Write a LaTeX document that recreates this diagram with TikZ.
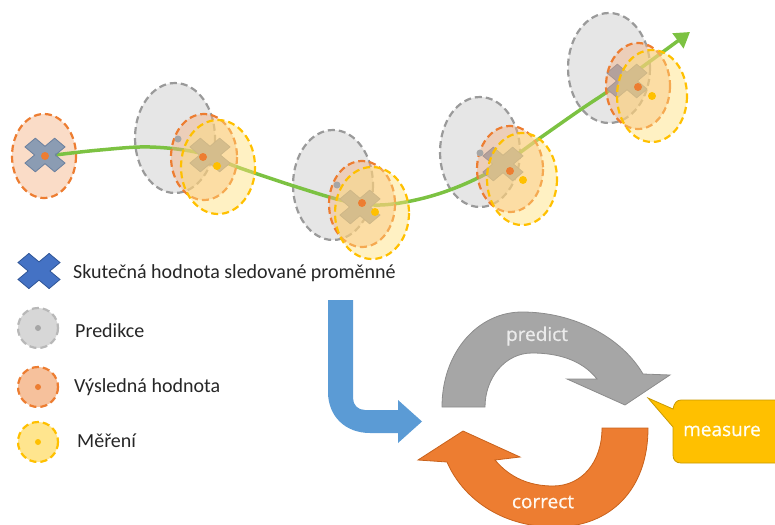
\documentclass[tikz,border=0pt]{standalone}
\usepackage{fontspec}
\setmainfont{Carlito}
\newfontfamily\cyclefont{Open Sans}[FakeBold=0.7]
\usetikzlibrary{arrows.meta}
\definecolor{trajgreen}{HTML}{7CC242}
\definecolor{predgray}{HTML}{A6A6A6}
\definecolor{predgrayd}{HTML}{9A9A9A}
\definecolor{resorange}{HTML}{ED7D31}
\definecolor{resorangel}{HTML}{F4B183}
\definecolor{measyellow}{HTML}{FFC000}
\definecolor{measyellowl}{HTML}{FFE07A}
\definecolor{crossblue}{HTML}{4472C4}
\definecolor{crossblued}{HTML}{2F5597}
\definecolor{crossgray}{HTML}{7F95B2}
\definecolor{crossgrayd}{HTML}{6A809E}
\definecolor{flowblue}{HTML}{5B9BD5}
\definecolor{arrowgraydark}{HTML}{8C8C8C}
\definecolor{arroworangedark}{HTML}{C8621C}
\definecolor{measborder}{HTML}{C99A00}
\tikzset{
  dashbase/.style={line width=2.2pt, dash pattern=on 7pt off 4pt},
  predell/.style={dashbase, draw=predgrayd, fill=predgray!40, fill opacity=0.7},
  resell/.style={dashbase, draw=resorange, fill=resorangel, fill opacity=0.45},
  measell/.style={dashbase, draw=measyellow, fill=measyellowl, fill opacity=0.45},
  resdot/.style={fill=resorange},
  measdot/.style={fill=measyellow},
  preddot/.style={fill=predgray},
  xmark/.pic={
    \path[pic actions, rotate=45] (7,20) -- (-7,20) -- (-7,7) -- (-20,7) -- (-20,-7)
      -- (-7,-7) -- (-7,-20) -- (7,-20) -- (7,-7) -- (20,-7) -- (20,7) -- (7,7) -- cycle;
  },
  diagcross/.style={fill=crossgray, draw=crossgrayd, line width=0.8pt, xscale=1.05, yscale=0.88},
  legtext/.style={anchor=west, inner sep=0pt, font=\fontsize{20}{24}\selectfont, text=black!85},
  cycletext/.style={inner sep=0pt, font=\cyclefont\fontsize{19}{22}\selectfont},
}
\begin{document}
\begin{tikzpicture}[x=1pt, y=-1pt]
\useasboundingbox (0,0) rectangle (775,524);
\clip (0,0) rectangle (775,524);

% ---------- trajectory: prediction ellipses ----------
\draw[predell] (175,138) ellipse[x radius=40, y radius=55];
\draw[predell] (333,185) ellipse[x radius=40, y radius=55];
\draw[predell] (480,152) ellipse[x radius=40, y radius=55];
\draw[predell] (609,68) ellipse[x radius=41, y radius=55];

% group 1 result ellipse
\draw[resell] (44,156) ellipse[x radius=32, y radius=42];

% green trajectory
\coordinate (tstart) at (55,155);
\coordinate (tend) at (690,32);
\draw[trajgreen, line width=3.5pt, -{Triangle[length=15pt,width=18pt]}]
  plot[smooth, tension=0.6] coordinates {(55,155) (100,150) (150,147) (200,153) (240,168)
   (300,188) (345,201) (380,205) (420,199) (460,186) (500,166) (540,138) (580,110) (620,83) (690,32)};

% true values
\pic[diagcross, fill opacity=0.9] at (45,155) {xmark};
\pic[diagcross] at (210,155) {xmark};
\pic[diagcross] at (360,207) {xmark};
\pic[diagcross] at (503,164) {xmark};
\pic[diagcross] at (627,81) {xmark};
\fill[resdot] (45,156) circle[radius=4];

% group 2
\draw[resell] (204,157) ellipse[x radius=33, y radius=43];
\draw[measell] (218,167) ellipse[x radius=37, y radius=47];
\fill[preddot] (178,139) circle[radius=3.5];
\fill[resdot] (203,157) circle[radius=4];
\fill[measdot] (217,166) circle[radius=4];

% group 3
\draw[resell] (362,204) ellipse[x radius=33, y radius=43];
\draw[measell] (372,213) ellipse[x radius=37, y radius=46];
\fill[preddot] (337,185) circle[radius=3.5];
\fill[resdot] (362,203) circle[radius=4];
\fill[measdot] (375,212) circle[radius=4];

% group 4
\draw[resell] (510,169) ellipse[x radius=33, y radius=43];
\draw[measell] (522,179) ellipse[x radius=35, y radius=46];
\fill[preddot] (480,153) circle[radius=3.5];
\fill[resdot] (510,171) circle[radius=4];
\fill[measdot] (523,180) circle[radius=4];

% group 5
\draw[resell] (638,86) ellipse[x radius=32, y radius=43];
\draw[measell] (652,96) ellipse[x radius=35, y radius=46];
\fill[resdot] (638,87) circle[radius=4];
\fill[measdot] (652,96) circle[radius=4];

% ---------- legend ----------
\pic[fill=crossblue, draw=crossblued, line width=0.8pt, xscale=1.1, yscale=0.92] at (39,271) {xmark};
\node[legtext] (ltrue) at (73,273) {Skutečná hodnota sledované proměnné};

\draw[dashbase, draw=predgray!80, fill=predgray!45] (38,328) circle[radius=20];
\fill[preddot] (38,328) circle[radius=3];
\node[legtext] (lpred) at (75,331) {Predikce};

\draw[dashbase, draw=resorange, fill=resorangel!80] (38,387) circle[radius=20];
\fill[resdot] (38,387) circle[radius=3];
\node[legtext] (lres) at (74,387) {Výsledná hodnota};

\draw[dashbase, draw=measyellow, fill=measyellowl!85] (38,442) circle[radius=20];
\fill[measdot] (38,442) circle[radius=3];
\node[legtext] (lmeas) at (77,441) {Měření};

% ---------- blue bent arrow ----------
\fill[flowblue] (328,300) -- (353,300) -- (353,398) .. controls (353,405) and (358,410) .. (365,410)
  -- (398,410) -- (398,400) -- (422,421.5) -- (398,443) -- (398,433) -- (370,433)
  .. controls (345,433) and (328,416) .. (328,392) -- cycle;

% ---------- predict arrow ----------
\filldraw[fill=predgray, draw=arrowgraydark, line width=0.8pt]
  (442,407) .. controls (442,352) and (478,312) .. (522,312)
  .. controls (575,312) and (622,338) .. (643,374)
  -- (670,375) -- (625,405) -- (567,379) -- (597,379)
  .. controls (582,360) and (558,353) .. (532,353)
  .. controls (505,353) and (485,378) .. (485,407) -- cycle;
\node[cycletext, text=white!92!black] (predict) at (537,336) {predict};

% ---------- correct arrow ----------
\filldraw[fill=resorange, draw=arroworangedark, line width=0.8pt]
  (648,428) .. controls (648,490) and (610,527) .. (555,527)
  .. controls (500,527) and (462,497) .. (447,462)
  -- (418,460) -- (463,431) -- (520,457) -- (495,460)
  .. controls (510,478) and (530,486) .. (553,486)
  .. controls (582,486) and (602,462) .. (602,428) -- cycle;
\node[cycletext, text=white!95!orange] (correct) at (543,502) {correct};

% ---------- measure callout ----------
\filldraw[fill=measyellow, draw=measborder, line width=0.8pt]
  (681,400) -- (790,400) -- (790,463) -- (681,463)
  .. controls (676,463) and (673,460) .. (673,455)
  -- (673,427) -- (648,398) -- (673,409)
  .. controls (674,403) and (677,400) .. (681,400) -- cycle;
\node[cycletext, text=white!95!yellow] (measure) at (722,431) {measure};
\end{tikzpicture}
\end{document}
